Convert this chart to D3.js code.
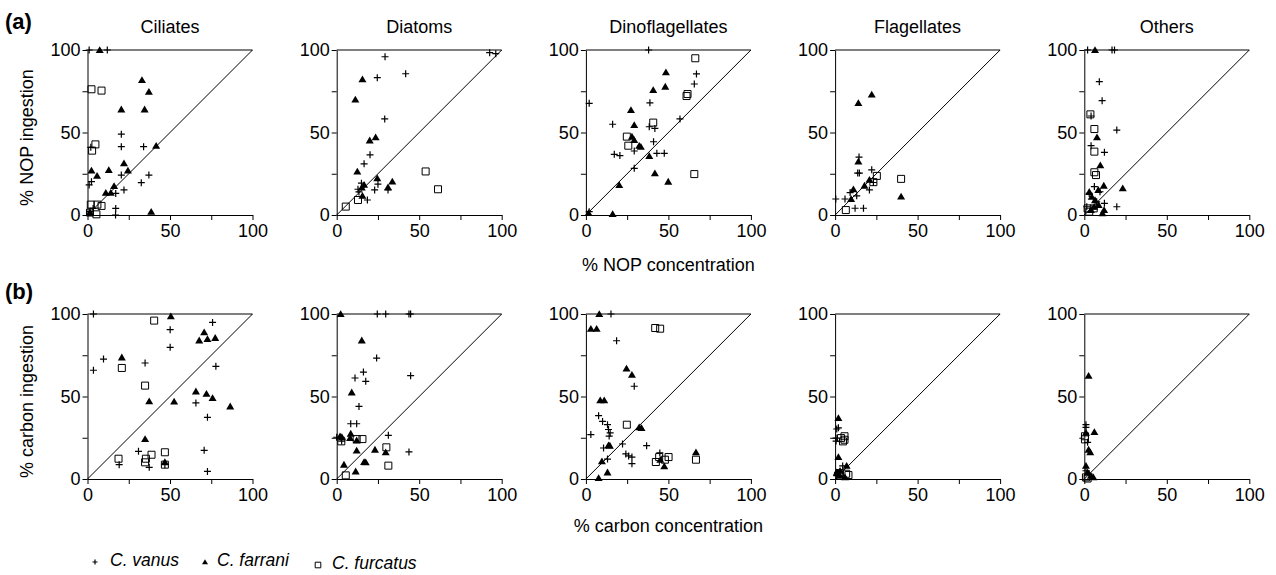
<!DOCTYPE html>
<html><head><meta charset="utf-8">
<script src="https://cdn.jsdelivr.net/npm/d3@7"></script>
<style>
html,body{margin:0;padding:0;background:#fff;}
text{font-family:"Liberation Sans",Arial,Helvetica,sans-serif;fill:#000;}
</style></head>
<body><svg id="chart" width="1276" height="575"></svg>
<script>
// ---- data ----
const groups = ["Ciliates","Diatoms","Dinoflagellates","Flagellates","Others"];
const species = ["C. vanus","C. farrani","C. furcatus"];
const tickValues = [0,25,50,75,100];
const tickLabels = [0,50,100];
const rowLabels = ["(a)","(b)"];
const yTitles = ["% NOP ingestion","% carbon ingestion"];
const xTitles = ["% NOP concentration","% carbon concentration"];

// row (a): % NOP concentration (x) vs % NOP ingestion (y), one list per group
const nopVanus = [
 [[1,100],[12,100],[20.5,49],[20.5,41.4],[34,41.4],[37.2,24.2],[32.6,19.6],[20.5,24.2],[22.1,15.2],[17.1,13.1],[17.1,4],[17,0],[1,18.2],[2.4,20.2],[2,41],[1.4,2],[3.4,4]],
 [[29.3,95.9],[24.6,83.2],[41.8,85.6],[92.7,98.4],[96.4,97.8],[29.1,58.2],[20.2,36.5],[16.6,31],[12.9,15.6],[15,19.3],[23,15.2],[25,18.7],[18.6,9.1],[31.1,15.2],[13.5,14]],
 [[38,100],[2,67.7],[16.2,55],[17.2,36.8],[20.6,36],[38.8,68],[38.4,53.5],[41.8,52.5],[41,44.4],[43,37.4],[47.5,37.4],[29.3,38.8],[29.3,28.3],[57,58.2],[65.7,79.4],[67,85.5],[2,2]],
 [[0.4,9.7],[6,9.7],[9.1,13.6],[13.1,11.6],[12.1,4.1],[17.2,4.1],[14.7,25.4],[13.7,25.4],[14.5,35.1],[22.2,27.4],[20.8,15.2],[23.2,19.7]],
 [[2,100],[16.8,100],[18.3,100],[9.1,80.8],[10.8,69.3],[19.7,51.5],[4.1,60],[4.1,42],[12.2,38],[19.7,5],[6.1,17.2],[3,13.1],[1.5,5],[12.2,7.1],[9.5,14.1],[5,3.7],[7.5,8]]
];
const nopFarrani = [
 [[7.4,100],[33,81.8],[37.2,74.7],[20.5,64],[34.6,64],[41.6,42],[2.4,26.9],[5.8,23.8],[12.9,27.3],[22.1,31.3],[24.5,26.9],[16.1,17.6],[11.1,13.5],[14.1,13.5],[38.6,2],[1.5,1.5]],
 [[15.6,82.2],[11.3,70],[20,45.2],[23.6,47.1],[12.5,26.4],[24.6,22.3],[33.7,20.3],[31.1,16.8],[16.6,18.3],[15.2,16.6],[15.6,11.6]],
 [[48.5,86.5],[48.1,77.8],[40.8,75.8],[27.3,63.6],[29.3,54.5],[27.9,47.5],[29.3,45.5],[32.3,42],[33.3,41.4],[38.4,35.8],[41.8,25.3],[49.9,20.2],[20.2,18.2],[16.2,0.6],[1.6,1.2]],
 [[22.2,73],[14.1,67.9],[14.1,32.4],[11.1,15.6],[9.7,9.7],[17.8,17.8],[20.8,21.3],[40,11.2]],
 [[6.5,100],[7.7,47.1],[9.7,30.1],[11.8,17.8],[23.3,16.2],[8.5,15.2],[3,14],[4.5,11],[6.5,9],[8.7,6],[11,1],[4,3],[6,5],[12,3]]
];
const nopFurcatus = [
 [[2.4,76.2],[8.5,75.4],[2.8,39],[4.8,42.8],[2,6.3],[6,6.3],[8.5,5.5],[5.4,0.4],[1.5,1.5]],
 [[53.9,26.4],[61.4,15.6],[12.9,9.1],[5.5,5.1]],
 [[66.3,95],[61,72.1],[61.6,73.3],[40.8,56],[24.8,47.5],[25.7,42],[65.7,24.8]],
 [[6.5,3],[23.2,19.9],[25.3,23.7],[40,21.9]],
 [[3.7,61],[6.1,52.1],[6.1,38.4],[6.1,25.9],[7.1,24.2],[3,2],[5.7,4],[2,4]]
];

// row (b): % carbon concentration (x) vs % carbon ingestion (y)
const carbonVanus = [
 [[3.6,100],[9.7,72.7],[3.6,65.9],[34.9,70.3],[50.1,90.5],[50.1,79.8],[75.8,94.9],[77.8,68.3],[65.7,46.1],[72.7,37.4],[70.7,17.4],[72.7,4.6],[30.9,16.8],[19.2,8.7],[37.4,7.1],[46.9,8.7]],
 [[24.6,100],[29.7,100],[43.8,100],[44.8,100],[24.2,73.3],[16.2,64.8],[11.1,61.2],[17.6,59.2],[44.8,62.6],[13.5,44],[8.5,33.5],[12.1,33.5],[0,25.3],[2.6,25.3],[31.3,26.5],[43.8,16.4],[3,23]],
 [[15.2,100],[18.6,83.8],[29.3,56.2],[7.7,38.4],[10.1,34.9],[13.1,32.9],[13.7,30],[14.7,27.9],[14.1,26],[3,26.9],[10.7,18.8],[22.2,21.2],[24.2,15.2],[25.9,14],[27.9,13.3],[27.9,9.3],[13.1,12.1],[36.8,20.2],[44.8,15.8]],
 [[1,30.3],[2,31],[0.6,24.8],[0.6,23],[4.6,7.9],[1.5,4],[1,2]],
 [[1,32.9],[1,31.3],[2,22.2],[3,3],[1,5]]
];
const carbonFarrani = [
 [[50.5,98.6],[70.7,88.9],[67.7,84],[72.7,84.8],[77.4,85.5],[20.8,73.7],[37.4,47.1],[52.5,46.9],[65.7,53.1],[72.1,51.7],[75.8,49.1],[86.5,44],[34.9,24.2],[46.9,10.3]],
 [[2.4,100],[15.2,84],[9.1,52.5],[2,25.9],[3.2,25.3],[8.5,27.5],[8.1,24.8],[12.1,23.4],[12.1,17.2],[23.2,17.8],[29.7,16.2],[16.6,10.3],[17.6,10.1],[4.4,8.7],[11.5,4.6]],
 [[8.1,100],[3,91.1],[6.5,91.1],[24.6,66.9],[27.9,63.2],[8.7,47.7],[11.1,47.7],[32.3,31.3],[33.7,30.9],[13.7,20.4],[14.5,20.2],[9.7,10.7],[13.1,4],[7.7,0.6],[66.7,16.2],[47.5,7.7],[45.1,11.7]],
 [[2,37],[2,13.3],[1,4],[3,5],[3,2],[6,1],[7,8]],
 [[2.6,62.6],[6.1,28.5],[2.6,17.8],[3.6,16.2],[1,28],[1,8],[2,4],[4,2],[5.5,1]]
];
const carbonFurcatus = [
 [[40.4,96],[20.8,67.3],[34.9,56.6],[18.8,12.3],[35.4,12.3],[34.9,10.1],[38.8,14.7],[46.9,16.2],[46.9,8.7]],
 [[15.6,24.2],[12.1,24.2],[2.8,22.8],[30.1,19.2],[31.3,8.1],[5.5,2.2]],
 [[42,91.5],[45,91.1],[24.8,32.9],[42.4,10.3],[44.4,13.3],[47.9,11.7],[50.1,13.3],[66.7,11.7]],
 [[3.6,24.8],[5.7,25.9],[5.7,23.8],[4.8,22.8],[6.7,3.2],[8.1,2.4],[3,3.6]],
 [[0.4,25.9],[0.4,24],[1,1],[2,0.3]]
];

const rows = [
  [nopVanus, nopFarrani, nopFurcatus],
  [carbonVanus, carbonFarrani, carbonFurcatus]
];

// ---- layout ----
const svg = d3.select("#chart");
const size = 165;
const lefts = groups.map((g,i) => 87.5 + i*249.2);
const tops = [50, 314];

// marker path generators (centered)
function plusPath(s){ return `M${-s},0H${s}M0,${-s}V${s}`; }
function triPath(s){ return `M0,${-s*0.95}L${s},${s*0.75}L${-s},${s*0.75}Z`; }
function sqPath(s){ return `M${-s},${-s}H${s}V${s}H${-s}Z`; }

function drawMarker(sel, kind, s){
  if(kind===0) sel.attr("d", plusPath(s)).attr("fill","none").attr("stroke","#000").attr("stroke-width",1.2);
  else if(kind===1) sel.attr("d", triPath(s)).attr("fill","#000").attr("stroke","none");
  else sel.attr("d", sqPath(s)).attr("fill","none").attr("stroke","#000").attr("stroke-width",1);
}

rows.forEach((seriesSet, r) => {
  groups.forEach((g, i) => {
    const x = d3.scaleLinear().domain([0,100]).range([0,size]);
    const y = d3.scaleLinear().domain([0,100]).range([size,0]);
    const p = svg.append("g").attr("transform",`translate(${lefts[i]},${tops[r]})`);

    // top border and 1:1 line
    p.append("line").attr("x1",x(0)).attr("x2",x(100)).attr("y1",y(100)).attr("y2",y(100))
      .attr("stroke","#000").attr("stroke-width",1);
    p.append("line").attr("x1",x(0)).attr("y1",y(0)).attr("x2",x(100)).attr("y2",y(100))
      .attr("stroke","#000").attr("stroke-width",1);

    const fmt = d => tickLabels.includes(d) ? d : "";
    const ax = p.append("g").attr("transform",`translate(0,${size})`)
      .call(d3.axisBottom(x).tickValues(tickValues).tickFormat(fmt).tickSize(5).tickSizeOuter(0).tickPadding(4));
    const ay = p.append("g")
      .call(d3.axisLeft(y).tickValues(tickValues).tickFormat(fmt).tickSize(5).tickSizeOuter(0).tickPadding(2));
    [ax, ay].forEach(a => {
      a.selectAll("text").attr("font-size",18).attr("font-family","Liberation Sans, Arial, sans-serif").attr("fill","#000");
      a.selectAll("path,line").attr("stroke","#000").attr("stroke-width",1);
    });

    // points
    seriesSet.forEach((series, k) => {
      p.append("g").selectAll("path").data(series[i]).join("path")
        .attr("transform", d => `translate(${x(d[0])},${y(d[1])})`)
        .call(sel => drawMarker(sel, k, k===0 ? 3.5 : (k===1 ? 4 : 3.5)));
    });

    if(r===0){
      svg.append("text").attr("x", lefts[i] + size/2).attr("y", 33)
        .attr("text-anchor","middle").attr("font-size",18).text(g);
    }
  });

  // row letter
  svg.append("text").attr("x",5).attr("y", r===0 ? 28.5 : 298.5)
    .attr("font-size",22).attr("font-weight","bold").text(rowLabels[r]);
  // y-axis title
  svg.append("text").attr("transform",`translate(33,${tops[r] + size/2 + 5}) rotate(-90)`)
    .attr("text-anchor","middle").attr("font-size",18).text(yTitles[r]);
  // x-axis title under middle panel
  svg.append("text").attr("x", lefts[2] + size/2).attr("y", r===0 ? 271 : 532)
    .attr("text-anchor","middle").attr("font-size",18).text(xTitles[r]);
});

// legend
const legendX = [95, 205, 318];
const legendTextX = [110, 217, 332];
const legendY = [562, 562, 565];
species.forEach((s, k) => {
  svg.append("path").attr("transform",`translate(${legendX[k]},${legendY[k]})`)
    .call(sel => drawMarker(sel, k, k===0 ? 2.5 : (k===1 ? 3 : 2.8)));
  svg.append("text").attr("x", legendTextX[k]).attr("y", legendY[k] + 4 + (k===2 ? 0 : 0))
    .attr("font-size",17.5).attr("font-style","italic").text(s);
});
</script>
</body></html>
